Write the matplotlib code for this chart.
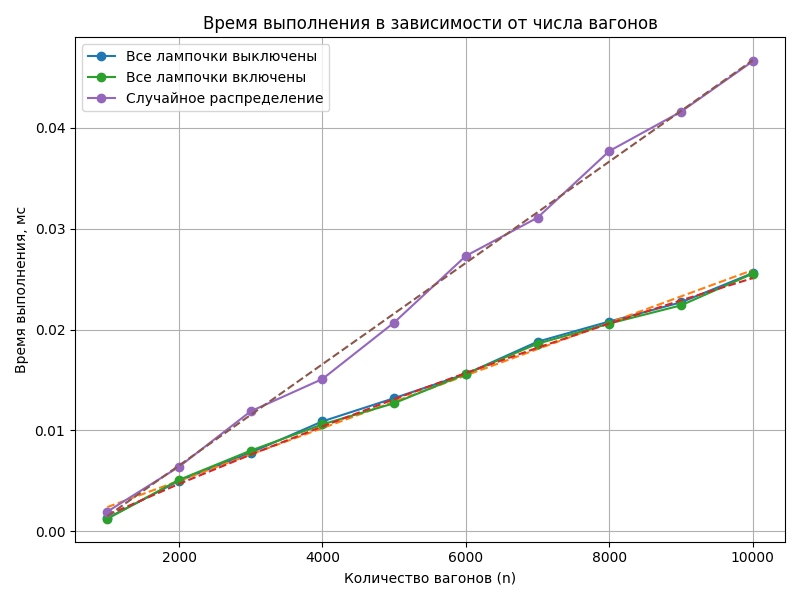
import numpy as np
import matplotlib
matplotlib.use("Agg")
import matplotlib.pyplot as plt

# число вагонов
n_values = [1000, 2000, 3000, 4000, 5000, 6000, 7000, 8000, 9000, 10000]

# измеренное время, мс
t_all_off = [0.0013, 0.0050, 0.0078, 0.0109, 0.0132, 0.0156, 0.0188, 0.0208, 0.0227, 0.0256]
t_all_on = [0.00124, 0.0051, 0.0080, 0.0106, 0.0127, 0.0156, 0.0186, 0.0206, 0.0224, 0.02554]
t_random = [0.00195, 0.0064, 0.0119, 0.0151, 0.0207, 0.0273, 0.0311, 0.0377, 0.0416, 0.0466]

# аппроксимации (пунктир)
fit_off_x = [1000, 10000]
fit_off_y = [0.0024, 0.0259]
fit_on_y = [0.0016, 0.0047, 0.0076, 0.0104, 0.0131, 0.0157, 0.0182, 0.0206, 0.0229, 0.0251]
fit_rand_x = [1000, 10000]
fit_rand_y = [0.0015, 0.0467]

fig, ax = plt.subplots(figsize=(8, 6), dpi=100)

ax.plot(n_values, t_all_off, marker='o', label='Все лампочки выключены')
ax.plot(fit_off_x, fit_off_y, '--')
ax.plot(n_values, t_all_on, marker='o', label='Все лампочки включены')
ax.plot(n_values, fit_on_y, '--')
ax.plot(n_values, t_random, marker='o', label='Случайное распределение')
ax.plot(fit_rand_x, fit_rand_y, '--')

ax.set_title('Время выполнения в зависимости от числа вагонов')
ax.set_xlabel('Количество вагонов (n)')
ax.set_ylabel('Время выполнения, мс')
ax.grid(True)
ax.legend(loc='upper left')

plt.tight_layout()
plt.savefig('out.png')
